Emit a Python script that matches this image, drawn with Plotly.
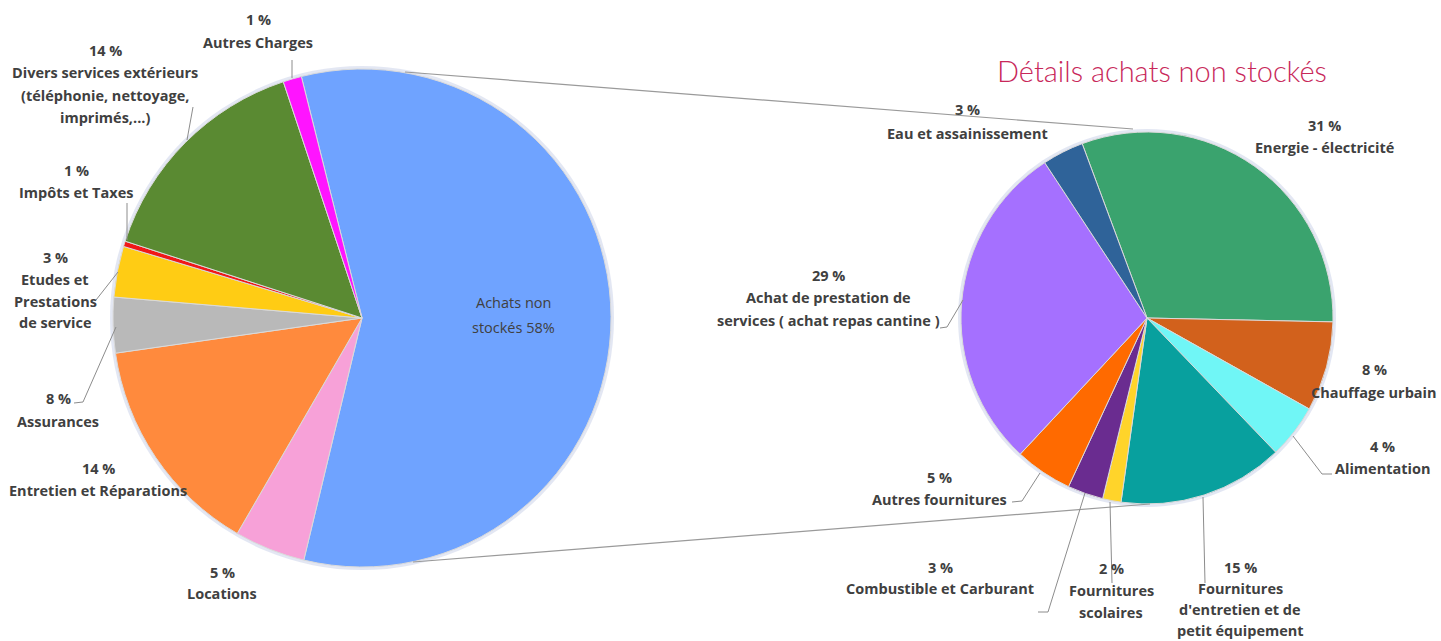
import plotly.graph_objects as go

W, H = 1441, 641

# ---------------- data ----------------
left_names = ["Achats non stockés", "Locations", "Entretien et Réparations", "Assurances",
              "Etudes et Prestations de service", "Impôts et Taxes",
              "Divers services extérieurs (téléphonie, nettoyage, imprimés,...)", "Autres Charges"]
left_values = [57.7, 4.6, 14.4, 3.6, 3.3, 0.35, 14.9, 1.2]
left_pct = ["58%", "5 %", "14 %", "8 %", "3 %", "1 %", "14 %", "1 %"]
left_colors = ["#6FA3FF", "#F7A1D8", "#FF8A3D", "#B9B9B9", "#FFCC14", "#F01818", "#5A8A32", "#FF14FF"]

right_names = ["Energie - électricité", "Chauffage urbain", "Alimentation",
               "Fournitures d'entretien et de petit équipement", "Fournitures scolaires",
               "Combustible et Carburant", "Autres fournitures",
               "Achat de prestation de services ( achat repas cantine )", "Eau et assainissement"]
right_values = [31.0, 7.8, 4.7, 14.4, 1.6, 3.1, 5.0, 28.8, 3.6]
right_pct = ["31 %", "8 %", "4 %", "15 %", "2 %", "3 %", "5 %", "29 %", "3 %"]
right_colors = ["#3AA36E", "#D2611C", "#70F6F6", "#08A09E", "#FFD42A", "#6A2C90", "#FF6A00", "#A570FF", "#2F6399"]

title_text = "Détails achats non stockés"


def fx(x):
    return x / W


def fy(y):
    return 1 - y / H


# ---------------- layout geometry (pixels) ----------------
L_CX, L_CY, L_R = 362, 318, 249
R_CX, R_CY, R_R = 1147, 318, 186

fig = go.Figure()

fig.add_trace(go.Pie(
    values=left_values, labels=left_names, sort=False, direction="clockwise",
    rotation=-14.1, textinfo="none", hoverinfo="label+percent",
    marker=dict(colors=left_colors, line=dict(color="#DADADA", width=1)),
    domain=dict(x=[fx(L_CX - L_R), fx(L_CX + L_R)], y=[fy(L_CY + L_R), fy(L_CY - L_R)]),
    showlegend=False))

fig.add_trace(go.Pie(
    values=right_values, labels=right_names, sort=False, direction="clockwise",
    rotation=-20.4, textinfo="none", hoverinfo="label+percent",
    marker=dict(colors=right_colors, line=dict(color="#DADADA", width=1)),
    domain=dict(x=[fx(R_CX - R_R), fx(R_CX + R_R)], y=[fy(R_CY + R_R), fy(R_CY - R_R)]),
    showlegend=False))

shapes = []
# soft halo behind the pies
for cx, cy, r in [(L_CX, L_CY, L_R), (R_CX, R_CY, R_R)]:
    shapes.append(dict(type="circle", xref="paper", yref="paper", layer="below",
                       x0=fx(cx - r - 3), x1=fx(cx + r + 3), y0=fy(cy + r + 3), y1=fy(cy - r - 3),
                       fillcolor="rgba(175,185,220,0.35)", line=dict(width=0)))


def polyline(pts, color="#8C8C8C", width=1):
    for (x0, y0), (x1, y1) in zip(pts[:-1], pts[1:]):
        shapes.append(dict(type="line", xref="paper", yref="paper",
                           x0=fx(x0), y0=fy(y0), x1=fx(x1), y1=fy(y1),
                           line=dict(color=color, width=width)))


# connectors between pies
polyline([(405, 72), (1133, 129)], color="#9A9A9A", width=1.2)
polyline([(413, 562), (1150, 504)], color="#9A9A9A", width=1.2)

# leader lines
leaders = [
    [(292, 60), (292, 78)],
    [(193, 107), (187, 140)],
    [(127, 203), (127, 240)],
    [(118, 272), (96, 300)],
    [(116, 327), (83, 402), (74, 403)],
    [(940, 328), (947, 327), (963, 300)],
    [(1293, 436), (1322, 474), (1332, 474)],
    [(1040, 473), (1022, 501), (1012, 502)],
    [(1085, 493), (1048, 612), (1038, 612)],
    [(1110, 502), (1112, 583)],
    [(1203, 497), (1205, 583)],
]
for pts in leaders:
    polyline(pts)

# ---------------- labels ----------------
LBL_FONT = dict(family="Open Sans, Roboto, sans-serif", size=14.5, color="#404040", weight="bold")
annotations = []


def block(lines, cx, y0, sp=22.5, font=LBL_FONT):
    for i, t in enumerate(lines):
        annotations.append(dict(x=fx(cx), y=fy(y0 + i * sp), xref="paper", yref="paper",
                                text=t, showarrow=False, xanchor="center", yanchor="middle",
                                font=font))


# left pie labels
block([left_pct[7], left_names[7]], 258, 20, 23)
block([left_pct[6], "Divers services extérieurs", "(téléphonie, nettoyage,", "imprimés,...)"], 105, 50, 22.5)
block([left_pct[5], left_names[5]], 76, 170, 22)
block([left_pct[4], "Etudes et", "Prestations", "de service"], 55, 258, 21.5)
block([left_pct[3], left_names[3]], 58, 398, 23)
block([left_pct[2], left_names[2]], 98, 468, 22)
block([left_pct[1], left_names[1]], 222, 572, 21)
block(["Achats non", "stockés " + left_pct[0]], 513, 303, 24,
      font=dict(family="Open Sans, Roboto, sans-serif", size=14.5, color="#404040"))

# right pie labels
block([right_pct[8], right_names[8]], 967, 110, 23)
block([right_pct[0], right_names[0]], 1324, 125, 22)
block([right_pct[7], "Achat de prestation de", "services ( achat repas cantine )"], 828, 275, 22.5)
block([right_pct[1], right_names[1]], 1374, 369, 23)
block([right_pct[2], right_names[2]], 1382, 447, 21.5)
block([right_pct[6], right_names[6]], 939, 477, 22)
block([right_pct[5], right_names[5]], 940, 567, 21)
block([right_pct[4], "Fournitures", "scolaires"], 1111, 568, 22)
block([right_pct[3], "Fournitures", "d'entretien et de", "petit équipement"], 1240, 567, 21.3)

# title
annotations.append(dict(x=fx(1162), y=fy(70), xref="paper", yref="paper", text=title_text,
                        showarrow=False, xanchor="center", yanchor="middle",
                        font=dict(family="Lato, sans-serif", size=29, color="#C8285A", weight=300)))

fig.update_layout(
    width=W, height=H, margin=dict(l=0, r=0, t=0, b=0),
    paper_bgcolor="white", plot_bgcolor="white",
    shapes=shapes, annotations=annotations, showlegend=False)

fig.write_html("out.html", config={"displayModeBar": False},
               post_script="document.body.style.margin='0';")
